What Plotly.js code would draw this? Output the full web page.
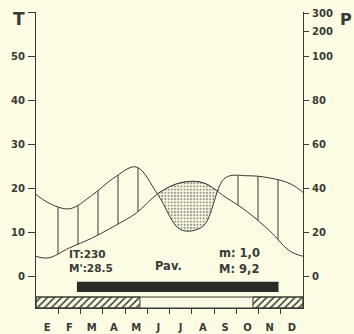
<!DOCTYPE html>
<html><head><meta charset="utf-8">
<script src="https://cdn.plot.ly/plotly-3.0.1.min.js"></script>
<style>html,body{margin:0;padding:0;background:#fcfbe3;}</style>
</head><body>
<div id="chart" style="width:354px;height:334px;"></div>
<script>
// ---- data ----
const months = ['E','F','M','A','M','J','J','A','S','O','N','D'];
const tempC = [4.3, 6.6, 8.8, 11.5, 14.5, 19.0, 21.4, 21.4, 18.2, 14.8, 10.5, 5.6];
const precipMM = [34, 31, 37, 45, 50, 37, 21.5, 23, 45, 46, 45, 42];
const tTickLabels = ['0','10','20','30','40','50',''];
const pTickLabels = ['0','20','40','60','80','100','200','300'];
const frostStart = [0, 9.75];
const frostEnd = [4.67, 12];
const pavStart = [1.84];
const pavEnd = [10.9];
const noteIT = 'IT:230';
const noteMp = "M':28.5";
const noteMin = 'm: 1,0';
const noteMax = 'M: 9,2';
const notePav = 'Pav.';

// ---- styling ----
const bg = '#fcfbe3';
const ink = '#3a3a36';
const fam = 'DejaVu Sans';
const clear = 'rgba(0,0,0,0)';

const xs = months.map((_, i) => i + 0.5);
const xw = [-0.5, ...xs, 12.5];
const tw = [tempC[11], ...tempC, tempC[0]];
const pw = [precipMM[11], ...precipMM, precipMM[0]].map(p => p / 2);

// dry interval (P/2 < T), crossings found from the monthly data
let c1 = null, c2 = null;
for (let i = 0; i < xw.length - 1; i++) {
  const d0 = pw[i] - tw[i], d1 = pw[i+1] - tw[i+1];
  if (d0 >= 0 && d1 < 0 && c1 === null) c1 = xw[i] + d0 / (d0 - d1);
  if (d0 < 0 && d1 >= 0 && c1 !== null && c2 === null) c2 = xw[i] + d0 / (d0 - d1);
}

// hatch sub-area (shifted so the hatch lines fall where the reference has them)
const pxPerMonth = 267 / 12;
const h1 = 12 / pxPerMonth, h2 = 254 / pxPerMonth;

const lineStyle = {color: ink, width: 1, shape: 'spline', smoothing: 1};
const noLine = {color: clear, width: 0, shape: 'spline', smoothing: 1};
const traces = [
  // main curves
  {x: xw, y: tw, mode: 'lines', line: lineStyle, hoverinfo: 'skip'},
  {x: xw, y: pw, mode: 'lines', line: lineStyle, hoverinfo: 'skip'},
  // humid hatching (x2 sub-area)
  {x: xw, y: tw, xaxis: 'x2', mode: 'lines', line: noLine, hoverinfo: 'skip'},
  {x: xw, y: pw, xaxis: 'x2', mode: 'lines', line: noLine, hoverinfo: 'skip',
   fill: 'tonexty', fillcolor: clear,
   fillpattern: {shape: '|', size: 20, solidity: 0.05, fgcolor: ink, bgcolor: clear}},
  // dry stippling (x3 sub-area = dry interval)
  {x: xw, y: tw, xaxis: 'x3', mode: 'lines', line: lineStyle, hoverinfo: 'skip',
   fill: 'tozeroy', fillcolor: bg,
   fillpattern: {shape: '.', size: 3.2, solidity: 0.33, fgcolor: '#929288', bgcolor: bg}},
  {x: xw, y: pw, xaxis: 'x3', mode: 'lines', line: lineStyle, hoverinfo: 'skip',
   fill: 'tozeroy', fillcolor: bg},
  // bars under the axis
  {type: 'bar', orientation: 'h', y: pavStart.map(() => -2.25), x: pavEnd.map((e, i) => e - pavStart[i]),
   base: pavStart, width: 2.3, marker: {color: '#2b2b28', line: {width: 0}}, hoverinfo: 'skip'},
  {type: 'bar', orientation: 'h', y: frostStart.map(() => -5.8), x: frostEnd.map((e, i) => e - frostStart[i]),
   base: frostStart, width: 2.5,
   marker: {color: bg, pattern: {shape: '/', size: 5, solidity: 0.3, fgcolor: ink, bgcolor: bg},
            line: {width: 1, color: ink}}, hoverinfo: 'skip'},
  {type: 'bar', orientation: 'h', y: [-5.8], x: [12], base: [0], width: 2.5,
   marker: {color: clear, line: {width: 1, color: ink}}, hoverinfo: 'skip'},
  {x: [0], y: [0], yaxis: 'y2', mode: 'none', hoverinfo: 'skip'}
];

const yr = [-7.05, 60.2];
const tickFont = {family: fam, size: 10, color: ink, weight: 'bold'};
const noteFont = {family: fam, size: 11.5, color: ink, weight: 'bold'};
function note(text, px, py) {
  return {text: text, x: (px - 36) / pxPerMonth, y: (277 - py) / 4.4, xref: 'x', yref: 'y',
          xanchor: 'left', yanchor: 'middle', showarrow: false, font: noteFont};
}
const layout = {
  width: 354, height: 334,
  margin: {l: 36, r: 51, t: 12, b: 26, pad: 0},
  paper_bgcolor: bg, plot_bgcolor: clear,
  showlegend: false, barmode: 'overlay',
  font: {family: fam, color: ink, size: 10},
  xaxis: {range: [0, 12], domain: [0, 1], showline: true, linecolor: ink, linewidth: 1,
          showgrid: false, zeroline: false, tickmode: 'array', tickvals: xs, ticktext: months,
          ticks: '', tickfont: {family: fam, size: 10, color: ink, weight: 'bold'}, ticklabelstandoff: 10,
          minor: {tickmode: 'array', tickvals: [1,2,3,4,5,6,7,8,9,10,11], ticks: 'outside',
                  ticklen: 5, tickcolor: ink, tickwidth: 1, showgrid: false}},
  xaxis2: {range: [h1, h2], domain: [h1 / 12, h2 / 12], anchor: 'y', visible: false},
  xaxis3: {range: [c1, c2], domain: [c1 / 12, c2 / 12], anchor: 'y', visible: false},
  yaxis: {range: yr, showline: true, linecolor: ink, linewidth: 1, showgrid: false, zeroline: false,
          ticks: 'outside', ticklen: 7, tickcolor: ink, tickmode: 'array',
          tickvals: [0,10,20,30,40,50,60], ticktext: tTickLabels, tickfont: tickFont, ticklabelstandoff: 1},
  yaxis2: {range: yr, overlaying: 'y', side: 'right', anchor: 'x', showline: true, linecolor: ink,
           linewidth: 1, showgrid: false, zeroline: false, ticks: 'outside', ticklen: 5, tickcolor: ink,
           tickmode: 'array', tickvals: [0,10,20,30,40,50,55.7,59.8], ticktext: pTickLabels,
           tickfont: tickFont, ticklabelstandoff: 1},
  annotations: [
    {text: 'T', xref: 'paper', yref: 'paper', x: (19 - 36) / 267, y: (308 - 19) / 296,
     xanchor: 'center', yanchor: 'middle', showarrow: false, font: {family: fam, size: 17, color: ink, weight: 'bold'}},
    {text: 'P', xref: 'paper', yref: 'paper', x: (346 - 36) / 267, y: (308 - 20) / 296,
     xanchor: 'center', yanchor: 'middle', showarrow: false, font: {family: fam, size: 16, color: ink, weight: 'bold'}},
    {text: noteIT + '<br>' + noteMp, x: (67 - 36) / pxPerMonth, y: (277 - 261.5) / 4.4, xref: 'x', yref: 'y',
     xanchor: 'left', yanchor: 'middle', align: 'left', showarrow: false,
     font: {family: fam, size: 10.5, color: ink, weight: 'bold'}},
    note(notePav, 153, 266.5),
    note(noteMin, 217, 253),
    note(noteMax, 217, 269)
  ]
};
Plotly.newPlot('chart', traces, layout, {staticPlot: true, displayModeBar: false});
</script>
</body></html>
